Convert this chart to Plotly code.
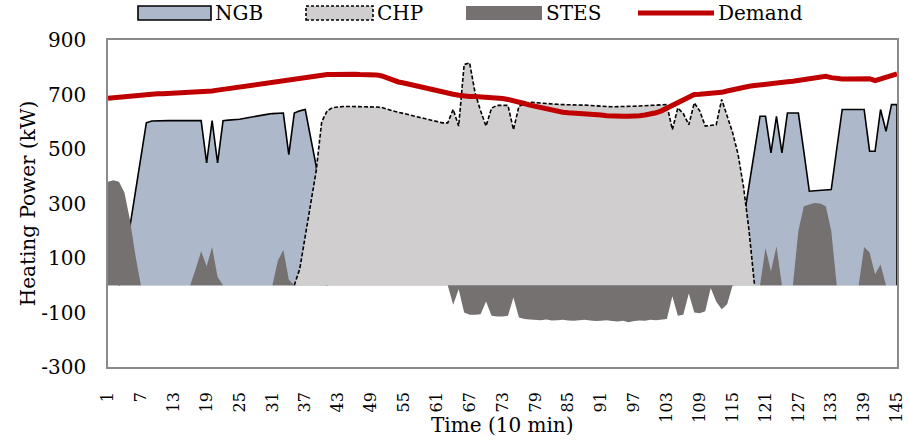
import plotly.graph_objects as go

# Time steps (10-minute intervals)
steps = list(range(1, 146))

# Heat demand (kW)
demand = [
    686, 688, 690, 694, 697, 699,
    700, 701, 702, 703, 703, 704,
    704, 705, 705, 706, 707, 709,
    711, 713, 716, 719, 722, 725,
    728, 731, 734, 737, 740, 744,
    747, 750, 753, 755, 758, 761,
    764, 767, 770, 772, 773, 773,
    774, 774, 774, 774, 773, 773,
    773, 772, 768, 760, 752, 746,
    742, 737, 733, 729, 725, 721,
    716, 711, 706, 701, 697, 694,
    693, 693, 692, 690, 688, 687,
    685, 682, 678, 673, 667, 661,
    656, 651, 646, 642, 638, 635,
    633, 632, 632, 631, 630, 628,
    625, 622, 620, 620, 620, 620,
    620, 622, 625, 628, 633, 640,
    650, 662, 672, 682, 692, 700,
    701, 702, 703, 704, 708, 713,
    718, 723, 727, 730, 733, 736,
    739, 741, 743, 745, 747, 749,
    752, 756, 760, 764, 767, 767,
    762, 758, 757, 757, 758, 759,
    760, 758, 751, 758, 766, 772, 776,
]

# Natural gas boiler output (kW); None while the boiler is off
ngb = [None, None, 0, 90, 215, 340,
       465, 596, 603, 604, 604, 604,
       604, 604, 604, 604, 604, 604,
       449, 604, 449, 604, 606, 607,
       609, 613, 617, 621, 624, 627,
       630, 632, 632, 479, 632, 640,
       645, 540, 437, 200, 0] + [None] * 73 + [
       0, 100, 240, 370, 500, 620,
       620, 486, 620, 486, 632, 632,
       632, 490, 345, 347, 349, 351,
       351, 500, 645, 645, 645, 645,
       645, 492, 492, 645, 565, 663, 663]

# CHP unit output (kW); None while the unit is off
chp = [None] * 34 + [
    0, 60, 180, 300, 420, 600,
    640, 652, 655, 656, 656, 656,
    656, 655, 655, 654, 652, 645,
    640, 635, 630, 625, 620, 615,
    610, 605, 600, 596, 596, 645,
    584, 810, 816, 706, 640, 584,
    650, 660, 660, 660, 571, 657,
    665, 672, 670, 668, 666, 665,
    664, 663, 663, 662, 662, 661,
    660, 658, 657, 656, 655, 655,
    655, 656, 657, 658, 659, 660,
    661, 662, 663, 571, 651, 630,
    589, 669, 640, 584, 586, 589,
    682, 620, 560, 480, 360, 200,
    0,
] + [None] * 26

# Seasonal thermal energy storage (kW, + discharge / - charge)
stes = [
    380, 385, 380, 340, 240, 110,
    0, 0, 0, 0, 0, 0,
    0, 0, 0, 0, 60, 125,
    70, 140, 30, 0, 0, 0,
    0, 0, 0, 0, 0, 0,
    0, 90, 130, 20, 0, 0,
    0, 0, 0, 0, 0, 0,
    0, 0, 0, 0, 0, 0,
    0, 0, 0, 0, 0, 0,
    0, 0, 0, 0, 0, 0,
    0, 0, 0, -72, -15, -100,
    -108, -108, -106, -60, -112, -115,
    -115, -112, -45, -118, -124, -126,
    -127, -128, -126, -129, -128, -127,
    -129, -130, -128, -127, -129, -131,
    -130, -128, -131, -133, -130, -136,
    -131, -129, -130, -127, -128, -126,
    -124, -40, -112, -108, -30, -100,
    -103, -95, -10, -60, -88, -70,
    0, 0, 0, 0, 0, 0,
    137, 51, 143, 0, 0, 0,
    200, 290, 296, 302, 300, 290,
    200, 0, 0, 0, 0, 0,
    140, 120, 40, 76, 0, 0, 0,
]

y_ticks = [-300, -100, 100, 300, 500, 700, 900]
y_tick_labels = ["-300", "-100", "100", "300", "500", "700", "900"]
x_ticks = list(range(1, 146, 6))
x_tick_labels = [str(v) for v in x_ticks]

FONT = "DejaVu Serif"
NGB_FILL, CHP_FILL, STES_FILL, DEMAND_RED = "#ADB9CA", "#D0CECE", "#767171", "#C00000"

fig = go.Figure()

# NGB area, closed down to zero at the right edge
fig.add_trace(go.Scatter(
    x=steps + [steps[-1]], y=ngb + [0], name="NGB",
    mode="lines", fill="tozeroy", fillcolor=NGB_FILL,
    line=dict(color="black", width=1.6),
))
fig.add_trace(go.Scatter(
    x=steps, y=chp, name="CHP",
    mode="lines", fill="tozeroy", fillcolor=CHP_FILL,
    line=dict(color="black", width=1.6, dash="4px,2px"),
))
fig.add_trace(go.Scatter(
    x=steps, y=stes, name="STES",
    mode="lines", fill="tozeroy", fillcolor=STES_FILL,
    line=dict(color=STES_FILL, width=0),
))
fig.add_trace(go.Scatter(
    x=steps, y=demand, name="Demand",
    mode="lines", line=dict(color=DEMAND_RED, width=5),
))

# Plot-area geometry in pixels, used to place the legend row and axis title
PLOT_L, PLOT_W, PLOT_T, PLOT_H = 108, 789, 40, 327


def px_x(p):
    return (p - PLOT_L) / PLOT_W


def px_y(p):
    return (PLOT_T + PLOT_H - p) / PLOT_H


legend_items = [
    ("NGB", dict(type="rect", fillcolor=NGB_FILL, line=dict(color="black", width=1.6)), 138, 211),
    ("CHP", dict(type="rect", fillcolor=CHP_FILL, line=dict(color="black", width=1.6, dash="3px,2px")), 306, 373),
    ("STES", dict(type="rect", fillcolor=STES_FILL, line=dict(width=0)), 466, 542),
    ("Demand", dict(type="line", line=dict(color=DEMAND_RED, width=5)), 638, 714),
]
shapes, annotations = [], []
for label, style, x0, x1 in legend_items:
    if style["type"] == "rect":
        y0, y1 = 6, 20
    else:
        y0 = y1 = 13
    shapes.append(dict(xref="paper", yref="paper", x0=px_x(x0), x1=px_x(x1),
                       y0=px_y(y1), y1=px_y(y0), layer="above", **style))
    annotations.append(dict(xref="paper", yref="paper", x=px_x(x1 + 2), y=px_y(13),
                            xanchor="left", yanchor="middle", showarrow=False,
                            text=label, font=dict(family=FONT, size=20, color="black")))

# x-axis title, set close under the tick labels
annotations.append(dict(xref="paper", yref="paper", x=0.5, y=px_y(425),
                        xanchor="center", yanchor="middle", showarrow=False,
                        text="Time (10 min)", font=dict(family=FONT, size=20, color="black")))

fig.update_layout(
    width=909, height=441,
    margin=dict(l=PLOT_L, r=909 - PLOT_L - PLOT_W, t=PLOT_T, b=441 - PLOT_T - PLOT_H,
                autoexpand=False),
    paper_bgcolor="white", plot_bgcolor="white",
    font=dict(family=FONT, size=20, color="black"),
    showlegend=False,
    shapes=shapes,
    annotations=annotations,
    xaxis=dict(
        range=[1, 145], tickmode="array", tickvals=x_ticks, ticktext=x_tick_labels,
        tickangle=-90, tickfont=dict(family=FONT, size=16),
        showgrid=False, zeroline=False, showline=True, mirror=True,
        linecolor="#8a8a8a", linewidth=1.5, ticks="", ticklabelstandoff=17,
        automargin=False,
    ),
    yaxis=dict(
        range=[-300, 900], tickmode="array", tickvals=y_ticks, ticktext=y_tick_labels,
        tickfont=dict(family=FONT, size=20),
        showgrid=False, zeroline=True, zerolinecolor="#d9d9d9", zerolinewidth=1,
        showline=True, mirror=True, linecolor="#8a8a8a", linewidth=1.5,
        ticks="", ticklabelstandoff=16, automargin=False,
        title=dict(text="Heating Power (kW)", font=dict(family=FONT, size=20), standoff=0),
    ),
)

fig.write_html("out.html")
